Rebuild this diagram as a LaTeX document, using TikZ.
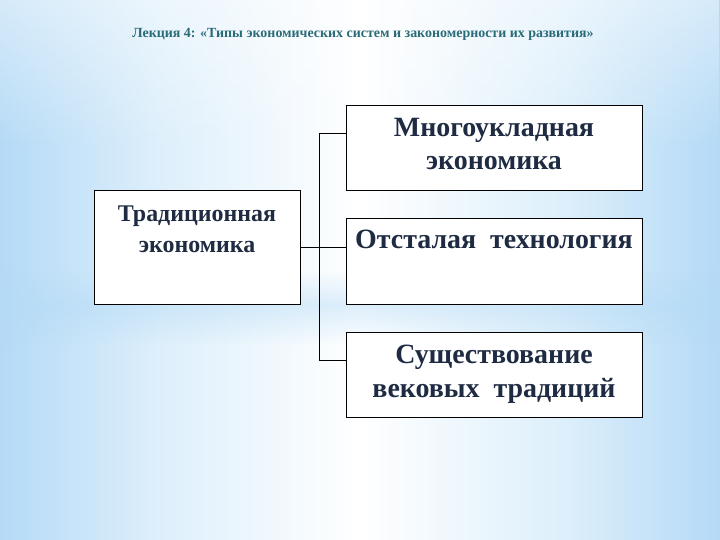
\documentclass[tikz,border=0pt]{standalone}
\usepackage{fontspec}
\usetikzlibrary{fadings}
\setmainfont{Liberation Serif}
\definecolor{navy}{HTML}{1E2B42}
\definecolor{teal2}{HTML}{2A6B78}
\definecolor{skyA}{HTML}{B4DAF6}
\definecolor{skyB}{HTML}{DDEFFB}
\pgfdeclarehorizontalshading{bgsh}{100bp}{color(0bp)=(skyA); color(25bp)=(skyA); color(36bp)=(skyB); color(50bp)=(white); color(64bp)=(skyB); color(75bp)=(skyA); color(100bp)=(skyA)}
\begin{document}
\begin{tikzpicture}[x=1bp,y=-1bp,
  box/.style={draw=black,line width=1.3bp,fill=white,inner sep=0pt,anchor=north west},
  wire/.style={draw=black,line width=0.9bp},
  big/.style={font=\fontsize{28}{28}\selectfont\bfseries,text=navy,anchor=base,inner sep=0pt},
  mid/.style={font=\fontsize{24}{24}\selectfont\bfseries,text=navy,anchor=base,inner sep=0pt},
  ttl/.style={font=\fontsize{14}{14}\selectfont\bfseries,text=teal2,anchor=base,inner sep=0pt}]
\useasboundingbox (0,0) rectangle (720,540);
\shade[shading=bgsh] (0,0) rectangle (720,540);
\fill[white,opacity=0.45,path fading=south] (0,0) rectangle (720,150);
\fill[skyA,opacity=0.45,path fading=north] (0,270) rectangle (720,305);
\fill[skyA,opacity=0.45,path fading=south] (0,305) rectangle (720,345);
% title
\node[ttl] (title) at (363,38) {Лекция 4: «Типы экономических систем и закономерности их развития»};
% boxes
\node[box,minimum width=206bp,minimum height=114bp] (L) at (94,190) {};
\node[box,minimum width=296bp,minimum height=85bp] (R1) at (346,105) {};
\node[box,minimum width=296bp,minimum height=86bp] (R2) at (346,218) {};
\node[box,minimum width=296bp,minimum height=85bp] (R3) at (346,332) {};
% texts
\node[mid] (l1) at (197,222) {Традиционная};
\node[mid] (l2) at (197,253) {экономика};
\node[big] (a1) at (494,137) {Многоукладная};
\node[big] (a2) at (494,170) {экономика};
\node[big] (b1) at (494,249) {Отсталая\ \ технология};
\node[big] (c1) at (494,363) {Существование};
\node[big] (c2) at (494,397) {вековых\ \ традиций};
% connectors
\coordinate (J) at (319,247);
\draw[wire] (L.east |- J) -- (R2.west |- J);
\draw[wire] (R1.west |- 0,133) -- (319,133) -- (319,360) -- (R3.west |- 0,360);
\end{tikzpicture}
\end{document}
